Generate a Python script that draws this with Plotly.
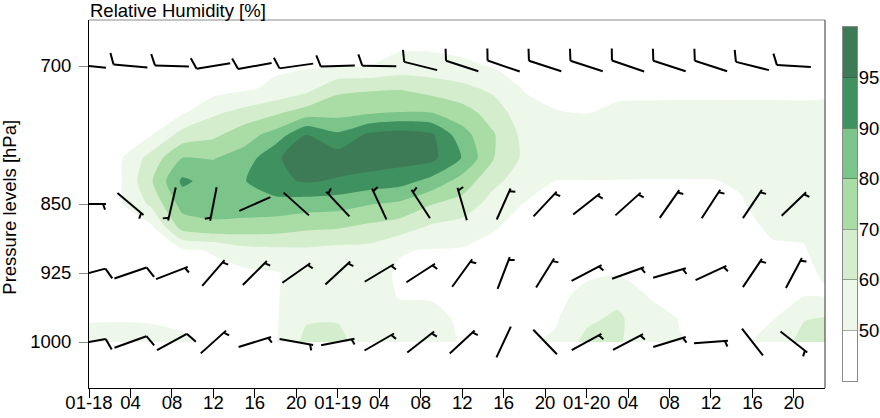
import numpy as np
import plotly.graph_objects as go

# ---------------- data ----------------
hours = [0, 3, 6, 9, 12, 15, 18, 21, 24, 27, 30, 33, 36, 39, 42, 45, 48, 51, 54, 57, 60, 63, 66, 69, 71]
levels = [650, 700, 725, 750, 775, 800, 825, 850, 875, 900, 925, 950, 975, 1000]

rh_650 = [25, 25, 26, 26, 27, 28, 25, 22, 15, 8, 5, 5, 6, 10, 20, 26, 27, 27, 27, 27, 27, 27, 27, 27, 27]
rh_700 = [28, 28, 29, 30, 30, 35, 42, 44, 48, 50, 54, 54, 52, 47, 40, 36, 35, 36, 37, 37, 37, 37, 37, 37, 38]
rh_725 = [30, 30, 32, 34, 30, 44, 52, 57, 68, 69, 69.5, 66, 63, 58, 47, 42, 42, 44, 45, 45.5, 45.5, 45.5, 45.5, 45, 46]
rh_750 = [32, 33, 38, 42, 58, 63, 68, 74, 76, 78, 80, 79.5, 74, 65.5, 53.5, 50.2, 48.5, 51, 51, 51, 51, 51, 51, 51, 51]
rh_775 = [35, 38, 48, 64, 68, 76, 84, 95.2, 91, 96, 97.5, 96, 84, 71, 57, 55, 54, 55, 55, 55, 55, 55, 55, 55, 55]
rh_800 = [38, 43, 64, 80, 79.5, 84, 94.5, 97, 97.5, 98, 97, 96.5, 89.5, 70.5, 58, 55.5, 55, 55, 55, 55, 55, 55, 56, 56, 56]
rh_825 = [40, 45, 69, 91, 86, 89.5, 94, 95.5, 94.5, 93, 92, 87, 76, 62.5, 55, 49.8, 49, 48.5, 48, 48, 48, 51, 56, 56, 56]
rh_850 = [40, 43, 62, 84, 84, 86, 86, 85, 84, 80.5, 78, 70.5, 66, 56, 48.5, 45, 44, 44, 43, 42, 43, 47, 55, 55, 56]
rh_875 = [40, 40, 42, 74, 78, 76, 75, 72, 71, 68, 65, 58.5, 56, 50.3, 44, 42, 41, 41, 41, 40, 40, 42, 51, 51.5, 55]
rh_900 = [40, 40, 40, 45, 50.5, 57, 58, 58.5, 57, 57, 50.5, 48, 46, 45, 42, 40, 40, 41, 40, 39, 38, 39, 46, 47, 54]
rh_925 = [42, 42, 40, 40, 42, 40, 47, 53, 52, 53, 45, 44, 42, 42, 40, 40, 44, 47, 43, 40, 38, 38, 44, 46, 50.5]
rh_950 = [44, 44, 43, 40, 40, 40, 47, 54, 54, 53, 48, 48, 43, 41, 40, 41, 52, 57, 48.5, 43, 40, 39, 45, 49, 48]
rh_975 = [47, 47, 46, 44, 42, 41, 45, 59, 59.5, 54, 52, 51.5, 46, 43, 42, 45, 58, 62, 53, 48.5, 42, 41, 49, 59.5, 61]
rh_1000 = [53, 54, 53, 51, 45, 44, 47, 63, 62, 56, 53, 52, 48, 45, 44, 51.5, 63, 61, 55, 50.3, 45, 44, 53, 64, 66]

rh_bounds = [0, 50, 60, 70, 80, 90, 95, 100]
band_colors = ["#ffffff", "#edf8ea", "#d4eecd", "#aadca6", "#7bc58a", "#3f9160", "#3d7b57"]
cbar_labels = ["50", "60", "70", "80", "90", "95"]

# wind barbs (every 4 h): direction wind comes from [deg], speed [kt]
barb_hours = [0, 4, 8, 12, 16, 20, 24, 28, 32, 36, 40, 44, 48, 52, 56, 60, 64, 68]
dir_700 = [276, 275, 272, 261, 260, 262, 268, 271, 284, 288, 289, 288, 288, 289, 288, 288, 284, 273]
spd_700 = [10, 10, 10, 10, 10, 10, 10, 10, 10, 10, 10, 10, 10, 10, 10, 10, 10, 10]
dir_850 = [90, 130, 193, 191, 246, 312, 317, 335, 327, 344, 24, 43, 52, 48, 35, 33, 34, 46]
spd_850 = [5, 5, 5, 5, 2, 2, 5, 5, 5, 5, 5, 5, 5, 5, 5, 5, 5, 5]
dir_925 = [75, 71, 69, 41, 45, 55, 47, 59, 57, 36, 21, 32, 62, 70, 74, 65, 34, 28]
spd_925 = [10, 10, 5, 5, 5, 5, 5, 5, 5, 5, 5, 5, 5, 5, 5, 5, 5, 5]
dir_1000 = [80, 70, 61, 48, 73, 100, 79, 60, 52, 47, 25, 136, 61, 62, 73, 86, 142, 128]
spd_1000 = [10, 10, 10, 5, 5, 5, 5, 5, 5, 5, 2, 2, 5, 5, 5, 5, 2, 5]

tick_hours = [0, 4, 8, 12, 16, 20, 24, 28, 32, 36, 40, 44, 48, 52, 56, 60, 64, 68]
tick_text = ["01-18", "04", "08", "12", "16", "20", "01-19", "04", "08", "12", "16", "20",
             "01-20", "04", "08", "12", "16", "20"]
p_ticks = [700, 850, 925, 1000]

# ---------------- layout constants ----------------
W, H = 880, 418
ML, MR, MT, MB = 89, 23, 20, 30
PLOT_W = W - ML - MR
PLOT_H = H - MT - MB
MAIN_W = 736
CB_X0, CB_X1 = 843 - ML, 857 - ML
CB_Y0, CB_Y1 = 27 - MT, 381 - MT
X_RANGE = [0, 71]
Y_RANGE = [1050, 650]
px_per_h = MAIN_W / (X_RANGE[1] - X_RANGE[0])
px_per_hpa = PLOT_H / (Y_RANGE[0] - Y_RANGE[1])
FONT = "Liberation Sans, Arial, Helvetica, sans-serif"
FS = 18.5

# ---------------- contour field ----------------
rh = np.array([rh_650, rh_700, rh_725, rh_750, rh_775, rh_800, rh_825, rh_850,
               rh_875, rh_900, rh_925, rh_950, rh_975, rh_1000], dtype=float)
z_idx = np.interp(rh, rh_bounds, np.arange(len(rh_bounds)))
cscale = [[k / 6, band_colors[k]] for k in range(7)]

fig = go.Figure()
fig.add_trace(go.Contour(
    x=hours, y=levels, z=z_idx, autocontour=False,
    contours=dict(start=1, end=6, size=1, coloring="fill", showlines=False),
    colorscale=cscale, showscale=False, line=dict(width=0, smoothing=0.6),
    hoverinfo="skip", xaxis="x", yaxis="y"))

# ---------------- wind barbs ----------------
STEM, FULL, HALF, SPACE = 34.0, 12.0, 6.0, 4.0


def barb_xy(t, p, d, s):
    th = np.deg2rad(90.0 - d)
    ux, uy = np.cos(th), np.sin(th)
    fth = th - np.deg2rad(70.0)
    fx, fy = np.cos(fth), np.sin(fth)

    def pt(px, py):
        return t + px / px_per_h, p - py / px_per_hpa

    h = STEM / 2
    segs = [(pt(-h * ux, -h * uy), pt(h * ux, h * uy))]
    n_full = int(s // 10)
    n_half = 1 if (s % 10) >= 5 else 0
    pos = h if n_full > 0 else h - 3
    for _ in range(n_full):
        segs.append((pt(pos * ux, pos * uy), pt(pos * ux + FULL * fx, pos * uy + FULL * fy)))
        pos -= SPACE
    if n_half:
        segs.append((pt(pos * ux, pos * uy), pt(pos * ux + HALF * fx, pos * uy + HALF * fy)))
    return segs


bx, by = [], []
for lev, dirs, spds in [(700, dir_700, spd_700), (850, dir_850, spd_850),
                        (925, dir_925, spd_925), (1000, dir_1000, spd_1000)]:
    for t, d, s in zip(barb_hours, dirs, spds):
        for a, b in barb_xy(t, lev, d, s):
            bx += [a[0], b[0], None]
            by += [a[1], b[1], None]

fig.add_trace(go.Scatter(x=bx, y=by, mode="lines", line=dict(color="black", width=2),
                         hoverinfo="skip", showlegend=False, xaxis="x", yaxis="y"))

# ---------------- colour bar (own small axes) ----------------
fig.add_trace(go.Heatmap(x=[0], y=[k + 0.5 for k in range(7)], z=[[k] for k in range(7)],
                         zmin=0, zmax=6, colorscale=cscale, showscale=False,
                         hoverinfo="skip", xaxis="x2", yaxis="y2"))

fig.update_layout(
    width=W, height=H, margin=dict(l=ML, r=MR, t=MT, b=MB, autoexpand=False),
    paper_bgcolor="white", plot_bgcolor="white", showlegend=False,
    font=dict(family=FONT, size=FS, color="black"),
    xaxis=dict(domain=[0, MAIN_W / PLOT_W], range=X_RANGE, tickvals=tick_hours, ticktext=tick_text,
               ticks="outside", ticklen=9, tickcolor="black", tickwidth=1, automargin=False,
               ticklabelstandoff=-11,
               showline=True, linecolor="black", linewidth=1, showgrid=False, zeroline=False,
               tickfont=dict(size=FS), anchor="y"),
    yaxis=dict(domain=[0, 1], range=Y_RANGE, tickvals=p_ticks, ticktext=[str(v) for v in p_ticks],
               ticks="outside", ticklen=9, tickcolor="#8a8a8a", tickwidth=1, ticklabelstandoff=4,
               showline=True, linecolor="black", linewidth=1, showgrid=False, zeroline=False,
               automargin=False, tickfont=dict(size=FS), anchor="x"),
    xaxis2=dict(domain=[CB_X0 / PLOT_W, CB_X1 / PLOT_W], range=[-0.5, 0.5], showticklabels=False,
                ticks="", showline=True, mirror=True, linecolor="#8a8a8a", linewidth=1,
                showgrid=False, zeroline=False, anchor="y2", automargin=False),
    yaxis2=dict(domain=[(PLOT_H - CB_Y1) / PLOT_H, (PLOT_H - CB_Y0) / PLOT_H], range=[0, 7],
                tickvals=[1, 2, 3, 4, 5, 6], ticktext=cbar_labels, side="right",
                ticks="inside", ticklen=14, tickcolor="rgba(50,70,55,0.45)", tickwidth=1,
                ticklabelstandoff=-3,
                layer="above traces", showline=True, mirror=True, linecolor="#8a8a8a", linewidth=1,
                showgrid=False, zeroline=False, tickfont=dict(size=FS), anchor="x2",
                automargin=False),
    shapes=[
        dict(type="line", xref="x domain", yref="y domain", x0=0, x1=1, y0=1, y1=1,
             line=dict(color="#8a8a8a", width=1)),
        dict(type="line", xref="x domain", yref="y domain", x0=1, x1=1, y0=0, y1=1,
             line=dict(color="#333333", width=1)),
    ],
    annotations=[
        dict(text="Relative Humidity [%]", xref="paper", yref="paper", x=0, y=1,
             xanchor="left", yanchor="bottom", yshift=-2, showarrow=False, font=dict(size=FS),
             borderpad=0),
        dict(text="Pressure levels [hPa]", xref="paper", yref="paper", x=(10 - ML) / PLOT_W,
             y=0.49, xanchor="center", yanchor="middle", textangle=-90, showarrow=False,
             font=dict(size=FS)),
    ],
)

fig.write_html("out.html")
